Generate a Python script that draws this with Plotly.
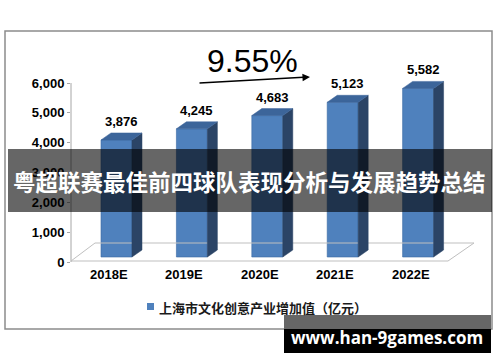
import plotly.graph_objects as go

# ---- data ----
categories = ["2018E", "2019E", "2020E", "2021E", "2022E"]
values = [3876, 4245, 4683, 5123, 5582]
value_labels = ["3,876", "4,245", "4,683", "5,123", "5,582"]
y_ticks = [0, 1000, 2000, 3000, 4000, 5000, 6000]
growth_label = "9.55%"
series_name = "上海市文化创意产业增加值（亿元）"
title_text = "粤超联赛最佳前四球队表现分析与发展趋势总结"
watermark = "www.han-9games.com"

# ---- geometry / style ----
W, H = 500, 362
ML = 71
CAT_PX, X0_PX = 75.4, 116.5
Y0_PX, UNIT_PX = 262, 0.02983
BAR_HALF = 0.2055
DEPTH_X = 10 / CAT_PX
DEPTH_Y = 7 / UNIT_PX
BASE = 5 / UNIT_PX
SCALE = 0.0302 / UNIT_PX

FRONT, SIDE, TOP = "#4f81bd", "#2b4466", "#3c659a"


def px_x(p):
    return (p - ML) / (W - ML)


def px_y(p):
    return (H - p) / H


def dx(p):
    return (p - X0_PX) / CAT_PX


def dy(p):
    return (Y0_PX - p) / UNIT_PX


fig = go.Figure()

# floor
fig.add_trace(go.Scatter(
    x=[dx(71), dx(448), dx(474), dx(95), dx(71)],
    y=[dy(261), dy(261), dy(243), dy(243), dy(261)],
    mode="lines", line=dict(color="#bfbfbf", width=1),
    hoverinfo="skip", showlegend=False))

# bars
for i, v in enumerate(values):
    top = BASE + SCALE * v
    xl, xr = i - BAR_HALF, i + BAR_HALF
    fig.add_trace(go.Scatter(
        x=[xr, xr + DEPTH_X, xr + DEPTH_X, xr, xr],
        y=[BASE, BASE + DEPTH_Y, top + DEPTH_Y, top, BASE],
        fill="toself", fillcolor=SIDE, mode="lines",
        line=dict(color=SIDE, width=0.5), hoverinfo="skip", showlegend=False))
    fig.add_trace(go.Scatter(
        x=[xl, xl + DEPTH_X, xr + DEPTH_X, xr, xl],
        y=[top, top + DEPTH_Y, top + DEPTH_Y, top, top],
        fill="toself", fillcolor=TOP, mode="lines",
        line=dict(color=TOP, width=0.5), hoverinfo="skip", showlegend=False))

fig.add_trace(go.Bar(
    x=list(range(len(values))), y=[SCALE * v for v in values],
    base=[BASE] * len(values), width=2 * BAR_HALF,
    marker=dict(color=FRONT, line=dict(color="#3a6aa3", width=0.6)),
    hoverinfo="skip", showlegend=False))

annotations = []
for i, (v, lab) in enumerate(zip(values, value_labels)):
    top = BASE + SCALE * v
    annotations.append(dict(
        x=i + DEPTH_X / 2, y=top + DEPTH_Y, xref="x", yref="y",
        text=lab, showarrow=False, xanchor="center", yanchor="bottom", yshift=2,
        font=dict(family="Liberation Sans", size=13, color="#000000", weight="bold")))

for i, c in enumerate(categories):
    annotations.append(dict(
        x=i - 0.1, y=dy(274), xref="x", yref="y", text=c, showarrow=False,
        xanchor="center", yanchor="middle",
        font=dict(family="Liberation Sans", size=13, color="#000000", weight="bold")))

# growth text and arrow
annotations.append(dict(
    x=px_x(252), y=px_y(61), xref="paper", yref="paper", text=growth_label,
    showarrow=False, xanchor="center", yanchor="middle",
    font=dict(family="Liberation Sans", size=32, color="#000000")))
annotations.append(dict(
    x=px_x(310), y=px_y(77), xref="paper", yref="paper", text="",
    showarrow=True, ax=-112, ay=6, arrowhead=2, arrowsize=1, arrowwidth=1.5,
    arrowcolor="#000000", standoff=0))

# legend
annotations.append(dict(
    x=px_x(157), y=px_y(307), xref="paper", yref="paper", text=series_name,
    xanchor="left", yanchor="middle", showarrow=False,
    font=dict(family="Noto Sans CJK SC", size=13, color="#1a1a1a", weight="bold")))

# title banner text
annotations.append(dict(
    x=px_x(249), y=px_y(181), xref="paper", yref="paper", text=title_text,
    showarrow=False, xanchor="center", yanchor="middle",
    font=dict(family="Noto Sans CJK SC", size=22.5, color="#ffffff", weight="bold")))

# watermark text
annotations.append(dict(
    x=px_x(387), y=px_y(337), xref="paper", yref="paper", text=watermark,
    showarrow=False, xanchor="center", yanchor="middle",
    font=dict(family="Open Sans", size=17, color="#ffffff", weight="bold")))

shapes = [
    dict(type="rect", xref="paper", yref="paper", x0=px_x(5), x1=px_x(492),
         y0=px_y(329), y1=px_y(31), line=dict(color="#8c8c8c", width=1.5), layer="below"),
    dict(type="line", xref="paper", yref="y", x0=0, x1=0, y0=0, y1=6000,
         line=dict(color="#a6a6a6", width=1), layer="below"),
    dict(type="rect", xref="paper", yref="paper", x0=px_x(147), x1=px_x(154),
         y0=px_y(310), y1=px_y(303), fillcolor=FRONT, line=dict(width=0)),
    dict(type="rect", xref="paper", yref="paper", x0=px_x(8), x1=px_x(492),
         y0=px_y(212), y1=px_y(149), fillcolor="rgba(0,0,0,0.6)",
         line=dict(width=0), layer="above"),
    dict(type="rect", xref="paper", yref="paper", x0=px_x(284), x1=px_x(491),
         y0=px_y(329), y1=px_y(315), fillcolor="#666666", line=dict(width=0), layer="above"),
    dict(type="rect", xref="paper", yref="paper", x0=px_x(284), x1=px_x(491),
         y0=px_y(353), y1=px_y(329), fillcolor="#000000", line=dict(width=0), layer="above"),
]

fig.update_layout(
    width=W, height=H, margin=dict(l=ML, r=0, t=0, b=0),
    paper_bgcolor="white", plot_bgcolor="white", showlegend=False,
    xaxis=dict(range=[dx(ML), dx(W)], visible=False, fixedrange=True),
    yaxis=dict(range=[dy(H), dy(0)], tickvals=y_ticks, tickformat=",d",
               showgrid=False, zeroline=False, showline=False, fixedrange=True,
               ticks="outside", ticklen=3, tickcolor="#a6a6a6",
               tickfont=dict(family="Liberation Sans", size=13, color="#000000", weight="bold")),
    shapes=shapes, annotations=annotations,
)

fig.write_html("out.html", config={"displayModeBar": False},
               post_script="document.body.style.margin='0';document.body.style.overflow='hidden';")
